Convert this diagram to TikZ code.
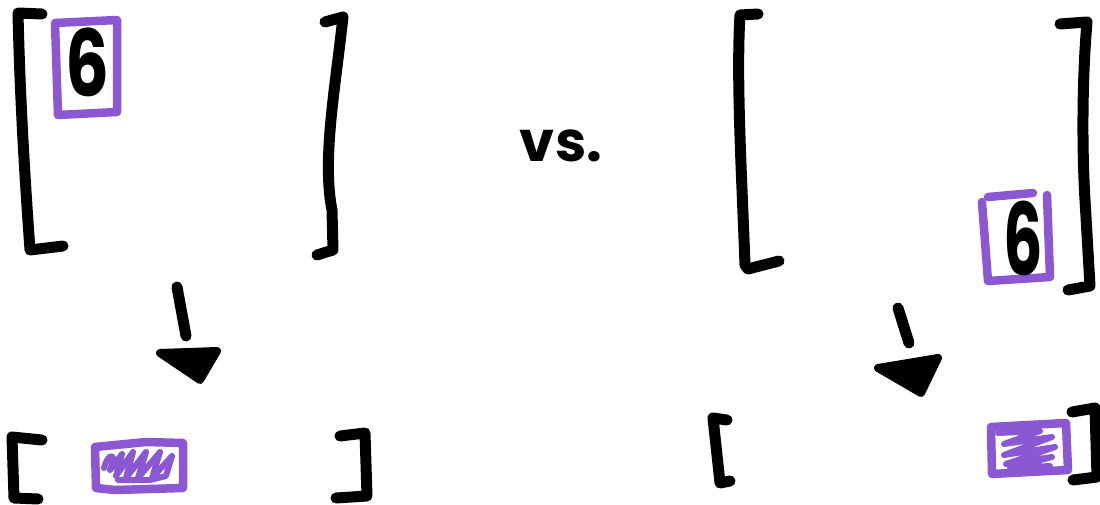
\documentclass[tikz,border=0pt]{standalone}
\usepackage{fontspec}
\newfontfamily\handfont{Poppins}
\definecolor{purp}{RGB}{139,87,211}
\tikzset{
 ink/.style={line width=11pt, line cap=round, line join=round, black},
 pen/.style={line width=8.5pt, line cap=round, line join=round, purp},
 scrib/.style={line width=6pt, line cap=round, line join=round, purp},
 head/.style={fill=black, draw=black, line width=8pt, line join=round},
 digit/.style={font=\handfont\bfseries\fontsize{92}{92}\selectfont, inner sep=0pt, anchor=center, xscale=0.75},
 bigdigit/.style={font=\handfont\bfseries\fontsize{100}{100}\selectfont, inner sep=0pt, anchor=center, xscale=0.62},
}
\begin{document}
\begin{tikzpicture}[x=1pt,y=-1pt]
\useasboundingbox (0,0) rectangle (1100,505);
% left big matrix
\draw[ink] (42,14) -- (18,13) .. controls (20,100) and (25,180) .. (30,250) -- (63,246);
\draw[ink] (325,22) -- (343,17) .. controls (335,90) and (322,160) .. (332,210) -- (333,250) -- (317,255);
\draw[pen] (55,23) -- (117,20) -- (117,112) -- (58,115) -- cycle;
\node[digit] (sixA) at (87,62) {6};
% vs
\node[font=\handfont\bfseries\fontsize{56}{56}\selectfont, inner sep=0pt] (vs) at (561,146) {vs.};
% right big matrix
\draw[ink] (758,14) -- (740,15) .. controls (736,80) and (742,180) .. (745,265) -- (748,269) -- (779,261);
\draw[ink] (1060,24) -- (1087,22) .. controls (1082,80) and (1082,150) .. (1085,200) -- (1090,286) -- (1068,290);
\draw[pen] (988,197) -- (1033,193);
\draw[pen] (1047,195) -- (1050,277) -- (988,281) -- (982,202);
\node[bigdigit] (sixB) at (1023,238) {6};
% arrows
\coordinate (la1) at (177,287);
\coordinate (la2) at (186,336);
\draw[ink] (la1) -- (la2);
\filldraw[head] (160,353) -- (217,351) -- (200,380) -- cycle;
\coordinate (ra1) at (898,308);
\coordinate (ra2) at (909,343);
\draw[ink] (ra1) -- (ra2);
\filldraw[head] (878,368) -- (938,358) -- (921,393) -- cycle;
% bottom left small vector
\draw[ink] (42,440) -- (12,437) -- (14,498) -- (38,499);
\draw[ink] (340,436) -- (365,433) -- (367,496) -- (336,498);
\draw[pen] (95,447) -- (146,442) -- (183,443) -- (183,488) -- (115,490) -- (96,488) -- cycle;
\draw[scrib] (104,468) .. controls (108,452) and (118,452) .. (110,470) -- (122,454) -- (116,476) -- (133,452) -- (126,478) -- (146,452) -- (138,478) -- (160,452) -- (152,478) -- (172,456) -- (166,476) -- (150,480) -- (118,480);
% bottom right small vector
\draw[ink] (727,420) -- (713,418) -- (720,483) -- (730,481);
\draw[ink] (1072,412) -- (1095,408) -- (1097,477) -- (1073,480);
\draw[pen] (991,427) -- (1066,423) -- (1068,470) -- (992,474) -- cycle;
\draw[scrib] (998,433) -- (1040,431) -- (1004,444) -- (1052,437) -- (1004,455) -- (1055,447) -- (1006,464) -- (1052,457) -- (1010,468) -- (1050,466);
\end{tikzpicture}
\end{document}
